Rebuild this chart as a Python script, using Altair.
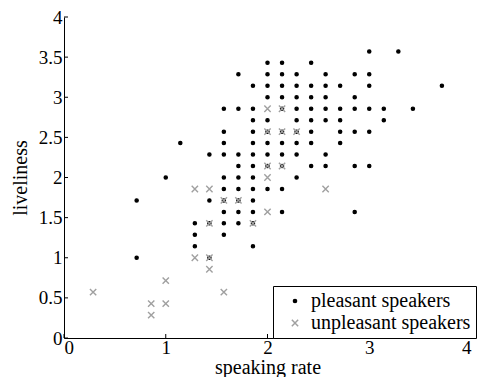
import altair as alt
import pandas as pd

# Pleasant speakers: liveliness row -> speaking rates
pleasant_liveliness = [3.571, 3.429, 3.286, 3.143, 3.0, 2.857, 2.714, 2.571, 2.429,
                       2.286, 2.143, 2.0, 1.857, 1.714, 1.571, 1.429, 1.286, 1.143, 1.0]
pleasant_rates = [
    [3.0, 3.286],
    [2.0, 2.143, 2.429],
    [1.714, 2.0, 2.143, 2.286, 2.571, 2.857, 3.0],
    [1.857, 2.0, 2.143, 2.286, 2.429, 2.571, 2.714, 3.0, 3.714],
    [2.0, 2.143, 2.286, 2.429, 2.571, 2.857],
    [1.571, 1.714, 1.857, 2.143, 2.286, 2.429, 2.571, 2.714, 2.857, 3.0, 3.143, 3.429],
    [1.857, 2.0, 2.286, 2.429, 2.571, 2.714, 3.143],
    [1.571, 1.857, 2.0, 2.143, 2.286, 2.429, 2.714, 2.857, 3.0],
    [1.143, 1.571, 1.857, 2.0, 2.143, 2.286, 2.429, 2.714],
    [1.429, 1.571, 1.714, 1.857, 2.0, 2.143, 2.286, 2.571],
    [1.714, 1.857, 2.0, 2.143, 2.429, 2.571, 2.857, 3.0],
    [1.0, 1.571, 1.714, 1.857, 2.286],
    [1.571, 1.714, 1.857, 2.0, 2.143],
    [0.714, 1.429, 1.571, 1.714, 1.857],
    [1.571, 1.714, 1.857, 2.143, 2.857],
    [1.286, 1.429, 1.571, 1.714, 1.857],
    [1.286, 1.571],
    [1.286, 1.857],
    [0.714, 1.429],
]

# Unpleasant speakers: liveliness row -> speaking rates
unpleasant_liveliness = [2.857, 2.571, 2.143, 2.0, 1.857, 1.714, 1.571, 1.429,
                         1.0, 0.857, 0.714, 0.571, 0.429, 0.286]
unpleasant_rates = [
    [2.0, 2.143],
    [2.0, 2.143, 2.286],
    [2.0, 2.143],
    [2.0],
    [1.286, 1.429, 2.571],
    [1.571, 1.714],
    [2.0],
    [1.429, 1.857],
    [1.286, 1.429],
    [1.429],
    [1.0],
    [0.286, 1.571],
    [0.857, 1.0],
    [0.857],
]

groups = ["pleasant speakers", "unpleasant speakers"]
y_ticks = [0, 0.5, 1, 1.5, 2, 2.5, 3, 3.5, 4]
x_ticks = [0, 1, 2, 3, 4]

rows = []
for yv, xs in zip(pleasant_liveliness, pleasant_rates):
    for xv in xs:
        rows.append({"rate": xv, "live": yv, "group": groups[0]})
for yv, xs in zip(unpleasant_liveliness, unpleasant_rates):
    for xv in xs:
        rows.append({"rate": xv, "live": yv, "group": groups[1]})
df = pd.DataFrame(rows)

X_PATH = "M-1,-1L1,1M-1,1L1,-1"
GRAY = "#a0a0a0"
FONT = "Liberation Serif"
W, H = 407, 321

xscale = alt.Scale(domain=[0, 4], nice=False, zero=False)
yscale = alt.Scale(domain=[0, 4], nice=False, zero=False)

points = alt.Chart(df).mark_point(strokeWidth=1.4, opacity=1).encode(
    x=alt.X("rate:Q", scale=xscale, title="speaking rate",
            axis=alt.Axis(values=x_ticks, format="~g")),
    y=alt.Y("live:Q", scale=yscale, title="liveliness",
            axis=alt.Axis(values=y_ticks, format="~g")),
    shape=alt.Shape("group:N", scale=alt.Scale(domain=groups, range=["circle", X_PATH]),
                    legend=alt.Legend(title=None)),
    stroke=alt.Stroke("group:N", scale=alt.Scale(domain=groups, range=["black", GRAY]),
                      legend=alt.Legend(title=None)),
    fill=alt.Fill("group:N", scale=alt.Scale(domain=groups, range=["black", "transparent"]),
                  legend=alt.Legend(title=None)),
    size=alt.Size("group:N", scale=alt.Scale(domain=groups, range=[10, 40]),
                  legend=alt.Legend(title=None)),
)

ytick_df = pd.DataFrame({"v": y_ticks})
xtick_df = pd.DataFrame({"v": x_ticks})

yticks = alt.Chart(ytick_df).mark_rule(color="black", strokeWidth=1).encode(
    y=alt.Y("v:Q", scale=yscale), x=alt.value(0), x2=alt.value(4))
xticks = alt.Chart(xtick_df).mark_rule(color="black", strokeWidth=1).encode(
    x=alt.X("v:Q", scale=xscale), y=alt.value(H), y2=alt.value(H - 4))

chart = alt.layer(points, yticks, xticks).properties(
    width=W, height=H,
    autosize="none",
    padding={"left": 56, "top": 9, "right": 6, "bottom": 39},
).configure_view(stroke=None).configure_axis(
    grid=False, ticks=False, domainColor="black", domainWidth=1,
    labelFont=FONT, labelFontSize=19, labelColor="black", labelPadding=2,
    titleFont=FONT, titleFontSize=20, titleFontWeight="normal", titleColor="black",
).configure_axisX(titlePadding=0, labelPadding=0).configure_axisY(titlePadding=8).configure_legend(
    orient="none", legendX=209, legendY=269,
    strokeColor="black", fillColor="white", padding=5,
    labelFont=FONT, labelFontSize=20, labelColor="black",
    labelOffset=6, symbolOffset=7, rowPadding=2,
)

chart.save("out.html", embed_options={"renderer": "svg", "actions": False})
